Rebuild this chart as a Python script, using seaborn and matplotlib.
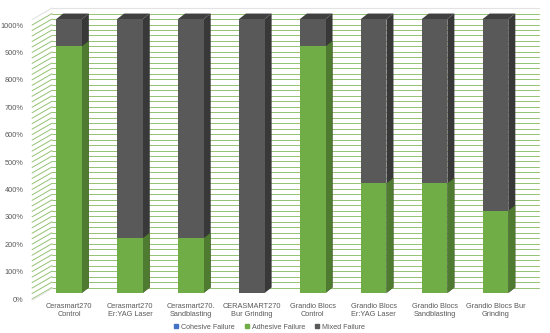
import numpy as np
import pandas as pd
import matplotlib
matplotlib.use("Agg")
import matplotlib.pyplot as plt
from matplotlib.patches import Polygon, Patch
import seaborn as sns

# data (values as printed on the axis, which runs 0% .. 1000%)
groups = [
    "Cerasmart270\nControl",
    "Cerasmart270\nEr:YAG Laser",
    "Cerasmart270.\nSandblasting",
    "CERASMART270\nBur Grinding",
    "Grandio Blocs\nControl",
    "Grandio Blocs\nEr:YAG Laser",
    "Grandio Blocs\nSandblasting",
    "Grandio Blocs Bur\nGrinding",
]
cohesive = [0, 0, 0, 0, 0, 0, 0, 0]
adhesive = [900, 200, 200, 0, 900, 400, 400, 300]
mixed = [100, 800, 800, 1000, 100, 600, 600, 700]
ytick_values = list(range(0, 1001, 100))

GREEN, GREEN_SIDE, GREEN_TOP = "#70AD47", "#4F7B31", "#5C9139"
GRAY, GRAY_SIDE, GRAY_TOP = "#595959", "#383838", "#404040"
BLUE = "#4472C4"
GRID_GREEN = "#93C272"
TEXT = "#595959"

df = pd.DataFrame({"group": groups, "cohesive": cohesive,
                   "adhesive": adhesive, "mixed": mixed})
df["ca"] = df["cohesive"] + df["adhesive"]
df["total"] = df["ca"] + df["mixed"]

sns.set_style("white")
plt.rcParams["font.family"] = ["Liberation Sans", "DejaVu Sans"]

fig = plt.figure(figsize=(5.5, 3.33), dpi=100)
ax = fig.add_axes([0.048, 0.0955, 0.936, 0.8967])

# pseudo-3d depth (x in category units, y in data units)
dx, dy = 0.115, 20
wall_x0, wall_x1 = -0.607, -0.28
front_drop = 22
top = max(df["total"])

# back wall + left wall lines
for v in range(0, top + 1, 20):
    ax.plot([wall_x1, 7.72], [v + dy, v + dy], color=GRID_GREEN, lw=0.7, zorder=1)
    ax.plot([wall_x0, wall_x1], [v - front_drop, v + dy], color=GRID_GREEN, lw=0.7, zorder=1)
ax.plot([wall_x1, 7.72], [top + 2 * dy, top + 2 * dy], color="#E3E3E3", lw=0.8, zorder=1)
ax.plot([wall_x0, wall_x1], [top + dy - front_drop, top + 2 * dy], color="#E3E3E3", lw=0.8, zorder=1)
ax.plot([wall_x0, wall_x1], [-front_drop - 4, dy - 4], color="#E3E3E3", lw=0.8, zorder=1)

# front faces
bar_kw = dict(width=0.42, saturation=1, linewidth=0, ax=ax)
sns.barplot(x="group", y="total", data=df, color=GRAY, zorder=3, **bar_kw)
sns.barplot(x="group", y="ca", data=df, color=GREEN, zorder=5, **bar_kw)
sns.barplot(x="group", y="cohesive", data=df, color=BLUE, zorder=6, **bar_kw)

n = len(groups)
gray_bars = ax.patches[:n]
green_bars = ax.patches[n:2 * n]


def add_depth(p, side_c, top_c, z, with_lid=True):
    x, y0 = p.get_x(), p.get_y()
    w, h = p.get_width(), p.get_height()
    if h <= 0:
        return
    side = [(x + w, y0), (x + w + dx, y0 + dy), (x + w + dx, y0 + h + dy), (x + w, y0 + h)]
    ax.add_patch(Polygon(side, closed=True, fc=side_c, ec="none", zorder=z))
    if with_lid:
        lid = [(x, y0 + h), (x + dx, y0 + h + dy), (x + w + dx, y0 + h + dy), (x + w, y0 + h)]
        ax.add_patch(Polygon(lid, closed=True, fc=top_c, ec="none", zorder=z))


for p in gray_bars:
    add_depth(p, GRAY_SIDE, GRAY_TOP, 2.9)
for p, m in zip(green_bars, df["mixed"]):
    add_depth(p, GREEN_SIDE, GREEN_TOP, 4.9, with_lid=(m == 0))

ax.set_xlim(-0.7, 7.75)
ax.set_ylim(-30, 1060)
ax.set_yticks([v - front_drop for v in ytick_values])
ax.set_yticklabels([f"{v}%" for v in ytick_values])
ax.set_xlabel("")
ax.set_ylabel("")
ax.tick_params(axis="both", length=0, labelsize=5.3, labelcolor=TEXT)
ax.tick_params(axis="y", pad=2)
ax.tick_params(axis="x", pad=1)
sns.despine(ax=ax, left=True, bottom=True)

handles = [Patch(color=BLUE, label="Cohesive Failure"),
           Patch(color=GREEN, label="Adhesive Failure"),
           Patch(color=GRAY, label="Mixed Failure")]
fig.legend(handles=handles, loc="lower center", bbox_to_anchor=(0.49, -0.012),
           ncol=3, frameon=False, fontsize=5.1, handlelength=0.6,
           handleheight=0.6, handletextpad=0.4, columnspacing=1.4,
           labelcolor=TEXT)

fig.savefig("out.png", dpi=100)
